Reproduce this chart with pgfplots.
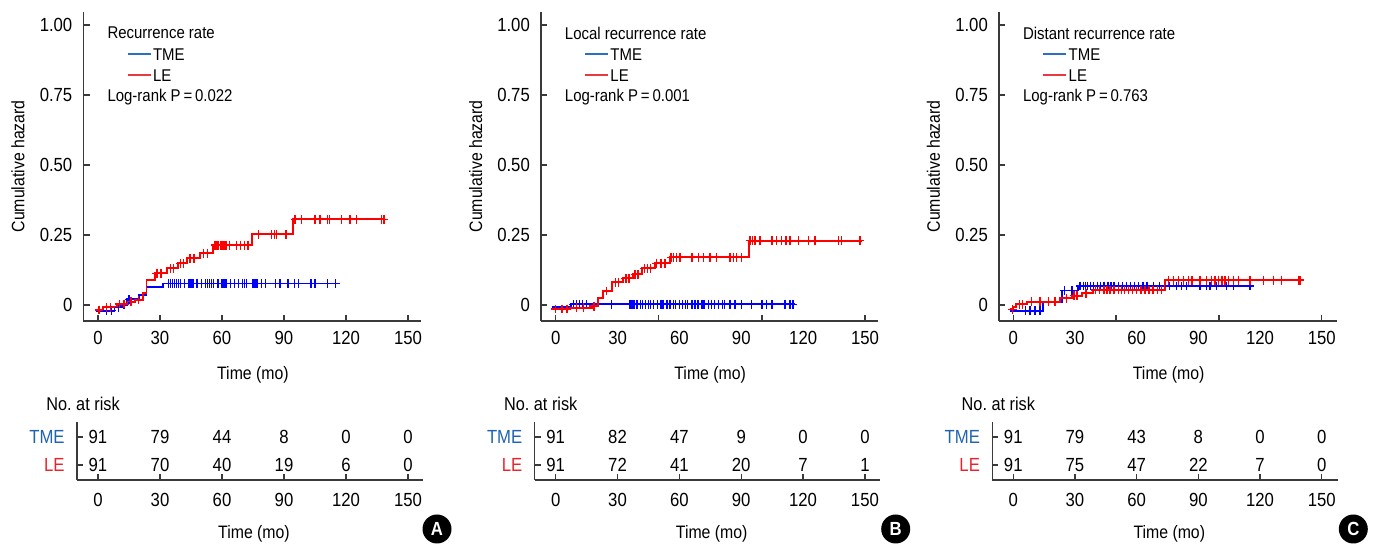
\documentclass[border=0pt]{standalone}
\usepackage{fontspec}
\setmainfont{Liberation Sans}[FakeStretch=0.88]
\usepackage{pgfplots}
\pgfplotsset{compat=1.18}
\definecolor{axisgray}{HTML}{3A3A3A}
\definecolor{tmeblue}{HTML}{1F63B4}
\definecolor{lered}{HTML}{E8232C}
\definecolor{legblue}{HTML}{2A6FC4}
\definecolor{legred}{HTML}{E8393F}
\newcommand\fsz[1]{\fontsize{#1}{#1}\selectfont}
\tikzset{titlenode/.style={anchor=west, font=\fsz{8.5pt}, inner sep=0pt}}
% legend block: title, two keyed entries, log-rank line
\newcommand\legblock[2]{%
  \node[titlenode] at (axis description cs:0.07,0.931) {#1};
  \draw[legblue, line width=0.85pt] (axis description cs:0.131,0.8625) -- (axis description cs:0.199,0.8625);
  \node[titlenode] at (axis description cs:0.205,0.8625) {TME};
  \draw[legred, line width=0.85pt] (axis description cs:0.131,0.7945) -- (axis description cs:0.199,0.7945);
  \node[titlenode] at (axis description cs:0.205,0.7945) {LE};
  \node[titlenode] at (axis description cs:0.07,0.725) {Log-rank P\,=\,#2};
}
\pgfplotsset{
 mainax/.style={
  scale only axis, height=154.65pt,
  ymin=-0.057, ymax=1.0475,
  axis lines=left, axis line style={-, draw=axisgray, line width=0.65pt},
  tick align=inside, major tick length=3pt,
  tick style={draw=axisgray, line width=0.65pt},
  ytick={0,0.25,0.5,0.75,1}, yticklabels={0,0.25,0.50,0.75,1.00},
  xtick={0,30,...,150},
  /pgf/number format/assume math mode=true,
  ticklabel style={font=\fsz{9.5pt}, inner sep=0pt},
  xticklabel shift=4.75pt, yticklabel shift=5.4pt,
  xlabel={Time (mo)}, ylabel={Cumulative hazard},
  label style={font=\fsz{9pt}},
  xlabel style={at={(axis description cs:0.502,-0.175)}, anchor=center},
  ylabel style={at={(axis description cs:-0.194,0.5)}, anchor=center},
 },
 riskax/.style={
  scale only axis, width=172.85pt, height=29.15pt, clip=false,
  ymin=0.464, ymax=2.546,
  axis lines=left, axis line style={-, draw=axisgray, line width=0.65pt},
  tick align=inside, major tick length=3pt,
  tick style={draw=axisgray, line width=0.65pt},
  xtick={0,30,...,150}, ytick={1,2},
  yticklabels={\textcolor{lered}{LE},\textcolor{tmeblue}{TME}},
  /pgf/number format/assume math mode=true,
  ticklabel style={font=\fsz{9.5pt}, inner sep=0pt},
  xticklabel shift=6.25pt, yticklabel shift=6pt,
  xlabel={Time (mo)},
  xlabel style={at={(axis description cs:0.512,-0.92)}, anchor=center, font=\fsz{9pt}},
 },
 curveT/.style={const plot, color=blue, line width=0.95pt, forget plot},
 curveL/.style={const plot, color=red, line width=0.95pt, forget plot},
 censT/.style={only marks, mark=+, mark size=2.2pt, color=blue, mark options={line width=0.7pt}, forget plot},
 censL/.style={only marks, mark=+, mark size=2.2pt, color=red, mark options={line width=0.7pt}, forget plot},
 risknum/.style={only marks, mark=*, mark size=0pt, mark options={draw=none, fill=none}, nodes near coords, point meta=explicit symbolic, every node near coord/.append style={anchor=center, font=\fsz{9.5pt}, inner sep=0pt, text=black}},
}
\begin{document}
\begin{tikzpicture}
\path[use as bounding box] (0,0) rectangle (688.5pt,-272pt);

% ================= Panel A =================
\begin{axis}[mainax, at={(41.75pt,-160.5pt)}, anchor=south west, width=168.75pt, xmin=-7.0, xmax=156.3]
\addplot[curveT] coordinates {(-1,-0.02) (8,-0.008) (12,0.0) (14,0.02) (20,0.035) (23.5,0.063) (31.6,0.077) (115.5,0.077)};
\addplot[censT] coordinates {(4,-0.02) (6.5,-0.02) (10,-0.008) (12.5,0) (15,0.02)
 (34,0.077) (35,0.077) (36,0.077) (37,0.077) (38,0.077) (39,0.077) (40,0.077) (42,0.077) (44,0.077) (45,0.077) (46,0.077) (48,0.077) (50,0.077) (52,0.077) (53,0.077) (54,0.077) (55,0.077) (56,0.077) (58,0.077) (60,0.077) (61,0.077) (62,0.077) (64,0.077) (66,0.077) (68,0.077) (70,0.077) (71,0.077) (72,0.077) (75,0.077) (76,0.077) (77,0.077) (79,0.077) (81,0.077) (86,0.077) (88,0.077) (92,0.077) (95,0.077) (97,0.077) (103,0.077) (105,0.077) (111,0.077) (115,0.077)};
\addplot[curveL] coordinates {(-1,-0.018) (2.6,-0.008) (9,0.0036) (14.7,0.012) (17.9,0.018) (21.9,0.042) (23.5,0.089) (27.6,0.113) (33.2,0.131) (38.9,0.149) (42.9,0.167) (49.4,0.185) (55.8,0.214) (74.4,0.2525) (94.2,0.306) (138.5,0.306)};
\addplot[censL] coordinates {(0.5,-0.018) (4,-0.008) (6,-0.008) (10.5,0.0036) (12.5,0.0036) (16,0.012) (19.5,0.018) (28.5,0.113) (30.5,0.113) (35,0.131) (36.5,0.131) (40,0.149) (41.5,0.149) (44.5,0.167) (46.5,0.167) (51,0.185) (53,0.185)
 (56.6,0.214) (57.5,0.214) (58.3,0.214) (59.2,0.214) (60,0.214) (61,0.214) (62,0.214) (63.5,0.214) (67,0.214) (69,0.214) (71,0.214) (72.5,0.214)
 (77.6,0.2525) (84,0.2525) (85.3,0.2525) (86.5,0.2525) (91,0.2525)
 (95.3,0.306) (98.5,0.306) (105,0.306) (107.4,0.306) (111,0.306) (112,0.306) (117.9,0.306) (121.9,0.306) (125.2,0.306) (137.3,0.306) (138.4,0.306)};
\legblock{Recurrence rate}{0.022}
\end{axis}

\begin{axis}[riskax, at={(38.5pt,-240pt)}, anchor=south west, xmin=-10.16, xmax=157.1]
\addplot[risknum] coordinates {(0,2)[91] (30,2)[79] (60,2)[44] (90,2)[8] (120,2)[0] (150,2)[0]};
\addplot[risknum] coordinates {(0,1)[91] (30,1)[70] (60,1)[40] (90,1)[19] (120,1)[6] (150,1)[0]};
\node[anchor=west, inner sep=0pt, font=\fsz{9.25pt}] at (axis description cs:-0.0897,1.304) {No.\ at risk};
\end{axis}

% ================= Panel B =================
\begin{axis}[mainax, at={(270.5pt,-160.5pt)}, anchor=south west, width=168.5pt, xmin=-7.13, xmax=156.3,
  xtick={0,50,100,150}, xticklabels={,,,}, extra x ticks={0,30,60,90,120,150}, extra x tick labels={0,30,60,90,120,150}, extra x tick style={major tick length=0pt}]
\addplot[curveT] coordinates {(-2,-0.006) (7.5,0.0025) (116,0.0025)};
\addplot[censT] coordinates {(8.5,0.0025) (10,0.0025) (11.5,0.0025) (13,0.0025) (15,0.0025) (27,0.0025) (36,0.0025) (37,0.0025) (38,0.0025) (39.5,0.0025) (41,0.0025) (42,0.0025) (43.5,0.0025) (45,0.0025) (46,0.0025) (47.5,0.0025) (49.5,0.0025) (51,0.0025) (52,0.0025) (54,0.0025) (55.5,0.0025) (57,0.0025) (58,0.0025) (60,0.0025) (61.5,0.0025) (63,0.0025) (64,0.0025) (66,0.0025) (67.5,0.0025) (69,0.0025) (71,0.0025) (72,0.0025) (74,0.0025) (75.5,0.0025) (77,0.0025) (79,0.0025) (81,0.0025) (82,0.0025) (84.5,0.0025) (87,0.0025) (90,0.0025) (95,0.0025) (100,0.0025) (102.3,0.0025) (104.8,0.0025) (111.2,0.0025) (113.6,0.0025) (115,0.0025)};
\addplot[curveL] coordinates {(-2,-0.014) (7,-0.01) (17.5,-0.004) (20.7,0.024) (23.1,0.05) (27.2,0.081) (32.8,0.095) (37.6,0.11) (41.7,0.131) (48.2,0.149) (55.4,0.17) (93.9,0.23) (148.4,0.23)};
\addplot[censL] coordinates {(0,-0.014) (3,-0.014) (5.5,-0.014) (10,-0.01) (13.5,-0.01) (18.5,-0.004) (24.5,0.05) (29,0.081) (30.5,0.081) (34,0.095) (35.5,0.095) (38.5,0.11) (40,0.11) (43,0.131) (44.5,0.131) (46,0.131) (49,0.149) (51,0.149) (53,0.149)
 (56,0.17) (57,0.17) (58.7,0.17) (60.3,0.17) (66,0.17) (69.2,0.17) (71.6,0.17) (74.8,0.17) (78.1,0.17) (84.5,0.17) (86.1,0.17) (87.8,0.17) (90.2,0.17)
 (94.2,0.23) (95.5,0.23) (96.7,0.23) (99.1,0.23) (104.8,0.23) (107.2,0.23) (109.6,0.23) (111.7,0.23) (113.6,0.23) (117.7,0.23) (122.5,0.23) (125.8,0.23) (137.1,0.23) (138.7,0.23) (147.6,0.23)};
\legblock{Local recurrence rate}{0.001}
\end{axis}

\begin{axis}[riskax, at={(267.35pt,-240pt)}, anchor=south west, xmin=-10.18, xmax=157.5]
\addplot[risknum] coordinates {(0,2)[91] (30,2)[82] (60,2)[47] (90,2)[9] (120,2)[0] (150,2)[0]};
\addplot[risknum] coordinates {(0,1)[91] (30,1)[72] (60,1)[41] (90,1)[20] (120,1)[7] (150,1)[1]};
\node[anchor=west, inner sep=0pt, font=\fsz{9.25pt}] at (axis description cs:-0.0897,1.304) {No.\ at risk};
\end{axis}

% ================= Panel C =================
\begin{axis}[mainax, at={(499.5pt,-160.5pt)}, anchor=south west, width=169pt, xmin=-6.96, xmax=157.4,
  xtick={0,50,100,150}, xticklabels={,,,}, extra x ticks={0,30,60,90,120,150}, extra x tick labels={0,30,60,90,120,150}, extra x tick style={major tick length=0pt}]
\addplot[curveT] coordinates {(-1.5,-0.02) (14.6,0.012) (23.5,0.052) (31.6,0.068) (116,0.068)};
\addplot[censT] coordinates {(5.8,-0.02) (8.2,-0.02) (10.6,-0.02) (13,-0.02) (25,0.052) (28.5,0.052)
 (32.5,0.068) (34,0.068) (35,0.068) (36,0.068) (37.5,0.068) (39,0.068) (41,0.068) (42.5,0.068) (44,0.068) (46,0.068) (47.5,0.068) (49,0.068) (51,0.068) (53,0.068) (55,0.068) (57,0.068) (59,0.068) (61,0.068) (63,0.068) (65,0.068) (68.1,0.068) (71.1,0.068) (76,0.068) (79.4,0.068) (81.9,0.068) (84.3,0.068) (90.8,0.068) (94,0.068) (95.7,0.068) (98.9,0.068) (103.8,0.068) (107,0.068) (115.1,0.068)};
\addplot[curveL] coordinates {(-1.6,-0.015) (0,-0.006) (1.5,0.0024) (6.5,0.012) (22.7,0.024) (28.4,0.033) (33.3,0.042) (38.9,0.054) (73.8,0.089) (140.3,0.089)};
\addplot[censL] coordinates {(-0.5,-0.015) (3,0.0024) (4.5,0.0024) (8.9,0.012) (13,0.012) (17,0.012) (20.3,0.012) (25.9,0.024) (29.5,0.033) (31,0.033) (35.3,0.042)
 (40,0.054) (42,0.054) (44,0.054) (45.5,0.054) (47,0.054) (49,0.054) (51,0.054) (52.5,0.054) (54,0.054) (56,0.054) (58,0.054) (60,0.054) (62,0.054) (64,0.054) (66,0.054) (68,0.054) (70,0.054) (72,0.054)
 (75.4,0.089) (77.9,0.089) (80.3,0.089) (82.8,0.089) (85.2,0.089) (86.8,0.089) (90.8,0.089) (94,0.089) (96.5,0.089) (98.1,0.089) (99.7,0.089) (101.4,0.089) (103,0.089) (104.6,0.089) (107,0.089) (109.5,0.089) (115.1,0.089) (121.6,0.089) (126.5,0.089) (130.5,0.089) (138.6,0.089) (139.4,0.089)};
\legblock{Distant recurrence rate}{0.763}
\end{axis}

\begin{axis}[riskax, at={(496.15pt,-240pt)}, anchor=south west, xmin=-10.2, xmax=157.9]
\addplot[risknum] coordinates {(0,2)[91] (30,2)[79] (60,2)[43] (90,2)[8] (120,2)[0] (150,2)[0]};
\addplot[risknum] coordinates {(0,1)[91] (30,1)[75] (60,1)[47] (90,1)[22] (120,1)[7] (150,1)[0]};
\node[anchor=west, inner sep=0pt, font=\fsz{9.25pt}] at (axis description cs:-0.0897,1.304) {No.\ at risk};
\end{axis}

% badges
\foreach \bx/\bl in {218.5/A, 447.85/B, 676.65/C} {
  \fill[black] (\bx pt,-264.5pt) circle (7.25pt);
  \node[text=white, font=\bfseries\fsz{9.5pt}] at (\bx pt,-264.5pt) {\bl};
}
\end{tikzpicture}
\end{document}
